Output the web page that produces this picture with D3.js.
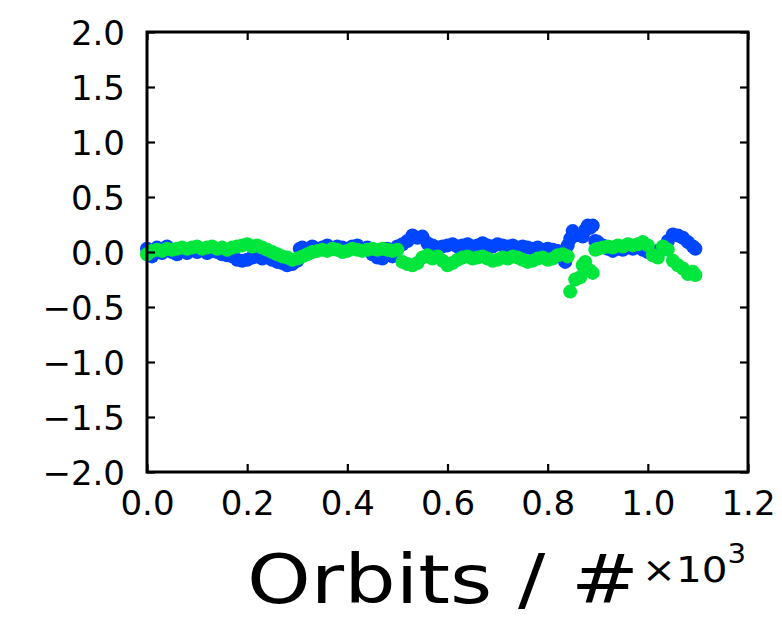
<!DOCTYPE html>
<html>
<head>
<meta charset="utf-8">
<script src="https://cdn.jsdelivr.net/npm/d3@7"></script>
<style>
  html, body { margin: 0; padding: 0; background: #fff; }
  svg { display: block; }
</style>
</head>
<body>
<svg id="chart" width="782" height="618"></svg>
<script>
// ---- Data (orbits in units of 10^3) ----
const blueOrbits = [
  0.00,0.01,0.02,0.03,0.04,0.05,0.06,0.07,0.08,0.09,
  0.10,0.11,0.12,0.13,0.14,0.15,0.16,0.17,0.18,0.19,
  0.20,0.21,0.22,0.23,0.24,0.25,0.26,0.27,0.28,0.29,
  0.30,0.305,0.31,0.32,0.33,0.34,0.35,0.36,0.37,0.38,0.39,
  0.40,0.41,0.42,0.43,0.44,0.45,0.46,0.47,0.48,0.49,
  0.50,0.51,0.52,0.53,0.54,0.55,0.56,0.57,0.58,0.59,
  0.60,0.61,0.62,0.63,0.64,0.65,0.66,0.67,0.68,0.69,
  0.70,0.71,0.72,0.73,0.74,0.75,0.76,0.77,0.78,0.79,
  0.80,0.81,0.82,0.83,0.835,0.84,0.845,0.85,0.855,
  0.87,0.875,0.88,0.885,0.89,0.895,
  0.90,0.91,0.92,0.93,0.94,0.95,0.96,0.97,0.98,0.99,
  1.00,1.01,1.02,1.03,1.04,1.05,1.06,1.07,1.08,1.09,1.095
];
const blueValues = [
  0.03,-0.04,0.04,-0.01,0.05,0.00,-0.02,0.02,-0.01,0.03,
  0.00,0.02,-0.01,0.01,0.00,-0.02,-0.03,-0.04,-0.07,-0.08,
  -0.07,-0.05,-0.04,-0.06,-0.05,-0.07,-0.09,-0.10,-0.12,-0.11,
  -0.08,0.03,0.04,0.02,0.05,0.03,0.04,0.06,0.03,0.05,0.04,
  0.03,0.05,0.06,0.02,0.04,-0.02,-0.05,-0.06,0.03,-0.04,
  0.05,0.07,0.10,0.15,0.13,0.14,0.08,0.06,0.04,0.05,
  0.06,0.07,0.05,0.06,0.07,0.05,0.06,0.08,0.06,0.05,
  0.07,0.06,0.05,0.06,0.04,0.05,0.04,0.03,0.04,0.02,
  0.03,0.02,0.01,-0.05,-0.09,0.06,0.12,0.19,0.15,
  0.14,0.20,0.24,0.22,0.24,0.10,
  0.09,0.06,0.03,0.01,0.03,0.02,0.04,0.03,0.05,0.02,
  0.00,-0.02,0.01,0.04,0.10,0.16,0.15,0.13,0.09,0.05,0.03
];
const greenOrbits = [
  0.00,0.01,0.02,0.03,0.04,0.05,0.06,0.07,0.08,0.09,
  0.10,0.11,0.12,0.13,0.14,0.15,0.16,0.17,0.18,0.19,
  0.20,0.21,0.22,0.23,0.24,0.25,0.26,0.27,0.28,0.29,
  0.30,0.31,0.32,0.33,0.34,0.35,0.36,0.37,0.38,0.39,
  0.40,0.41,0.42,0.43,0.44,0.45,0.46,0.47,0.48,0.49,
  0.50,0.51,0.52,0.53,0.54,0.55,0.56,0.57,0.58,0.59,
  0.60,0.61,0.62,0.63,0.64,0.65,0.66,0.67,0.68,0.69,
  0.70,0.71,0.72,0.73,0.74,0.75,0.76,0.77,0.78,0.79,
  0.80,0.81,0.82,0.83,0.84,
  0.845,0.855,0.865,0.87,0.875,0.885,0.89,
  0.895,0.90,0.91,0.92,0.93,0.94,0.95,0.96,0.97,0.98,0.99,
  1.00,1.01,1.02,1.03,1.04,1.05,1.06,1.07,1.08,1.09,1.095
];
const greenValues = [
  -0.02,0.01,0.02,0.01,0.03,0.02,0.03,0.04,0.03,0.04,
  0.05,0.03,0.04,0.05,0.03,0.04,0.02,0.04,0.05,0.06,
  0.07,0.05,0.06,0.04,0.02,0.00,-0.02,-0.04,-0.05,-0.07,
  -0.06,-0.04,-0.02,0.00,0.01,0.02,0.01,0.03,0.02,0.00,
  0.01,0.03,0.02,0.01,0.02,0.03,0.02,0.03,0.02,0.01,
  0.02,-0.09,-0.11,-0.12,-0.10,-0.05,-0.03,-0.06,-0.04,-0.08,
  -0.12,-0.10,-0.07,-0.05,-0.04,-0.06,-0.05,-0.04,-0.06,-0.08,
  -0.07,-0.05,-0.06,-0.04,-0.05,-0.07,-0.09,-0.08,-0.06,-0.05,
  -0.07,-0.06,-0.03,-0.02,-0.04,
  -0.36,-0.25,-0.23,-0.12,-0.09,-0.17,-0.19,
  0.02,0.03,0.04,0.05,0.04,0.06,0.05,0.07,0.06,0.07,0.09,
  0.06,-0.03,-0.05,0.05,0.02,-0.08,-0.12,-0.15,-0.20,-0.18,-0.21
];
const xTicks = [0.0, 0.2, 0.4, 0.6, 0.8, 1.0, 1.2];
const yTicks = [-2.0, -1.5, -1.0, -0.5, 0.0, 0.5, 1.0, 1.5, 2.0];
const xLabel = "Orbits / #";

// ---- Layout ----
const svg = d3.select("#chart");
const pL = 147, pR = 748, pT = 32, pB = 472;
const x = d3.scaleLinear().domain([0, 1.2]).range([pL, pR]);
const y = d3.scaleLinear().domain([-2, 2]).range([pB, pT]);
const fmt = v => d3.format(".1f")(v).replace("-", "\u2212");
const FONT = "DejaVu Sans";

const blue = blueOrbits.map((o, i) => ({o, v: blueValues[i]}));
const green = greenOrbits.map((o, i) => ({o, v: greenValues[i]}));

const gPts = svg.append("g");
gPts.selectAll("circle.b").data(blue).join("circle")
  .attr("class", "b").attr("cx", d => x(d.o)).attr("cy", d => y(d.v))
  .attr("r", 7).attr("fill", "#0046ff");
gPts.selectAll("circle.g").data(green).join("circle")
  .attr("class", "g").attr("cx", d => x(d.o)).attr("cy", d => y(d.v))
  .attr("r", 7).attr("fill", "#00e63c");

// ---- Axes (ticks inward, mirrored) ----
const tl = 8;
const axB = svg.append("g").attr("transform", `translate(0,${pB})`)
  .call(d3.axisBottom(x).tickValues(xTicks).tickSize(-tl).tickPadding(tl + 11).tickFormat(fmt));
const axT = svg.append("g").attr("transform", `translate(0,${pT})`)
  .call(d3.axisTop(x).tickValues(xTicks).tickSize(-tl).tickFormat(""));
const axL = svg.append("g").attr("transform", `translate(${pL},0)`)
  .call(d3.axisLeft(y).tickValues(yTicks).tickSize(-tl).tickPadding(tl + 14).tickFormat(fmt));
const axR = svg.append("g").attr("transform", `translate(${pR},0)`)
  .call(d3.axisRight(y).tickValues(yTicks).tickSize(-tl).tickFormat(""));

[axB, axT, axL, axR].forEach(a => {
  a.select(".domain").remove();
  a.selectAll(".tick line").attr("stroke", "#000").attr("stroke-width", 2.2);
  a.selectAll(".tick text").attr("font-family", FONT).attr("font-size", 34).attr("fill", "#000");
});
axL.selectAll(".tick text").attr("dy", "0.36em");
axB.selectAll(".tick text").attr("dy", "0.72em");

svg.append("rect").attr("x", pL).attr("y", pT)
  .attr("width", pR - pL).attr("height", pB - pT)
  .attr("fill", "none").attr("stroke", "#000").attr("stroke-width", 3);

// ---- Axis label with multiplier ----
svg.append("text").attr("x", 247).attr("y", 603)
  .attr("font-family", FONT).attr("font-size", 68)
  .attr("textLength", 392).attr("lengthAdjust", "spacingAndGlyphs")
  .text(xLabel);
const mult = svg.append("text").attr("x", 642).attr("y", 582)
  .attr("font-family", FONT).attr("font-size", 36)
  .attr("textLength", 104).attr("lengthAdjust", "spacingAndGlyphs");
mult.append("tspan").text("\u00d710");
mult.append("tspan").attr("font-size", 26).attr("dy", -19).text("3");
</script>
</body>
</html>
